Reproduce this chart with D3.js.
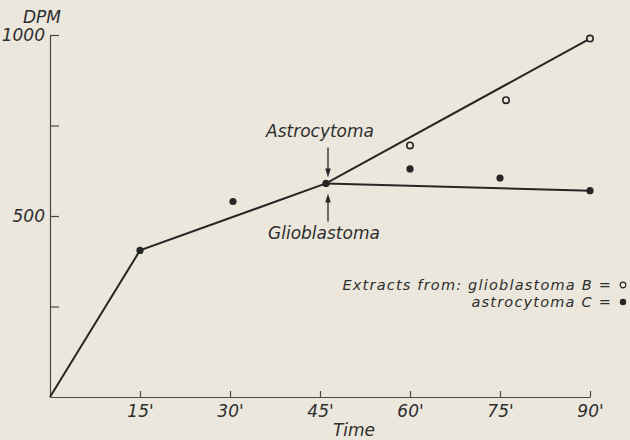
<!DOCTYPE html>
<html>
<head>
<meta charset="utf-8">
<script src="https://cdn.jsdelivr.net/npm/d3@7"></script>
<style>
    html, body { margin: 0; padding: 0; background: #ebe7dc; }
    svg { display: block; }
    text { font-family: 'DejaVu Sans', sans-serif; font-style: italic; fill: #2e2e2e; }
    .axis path, .axis line { stroke: #4a4a4a; stroke-width: 1.2; }
    .axis text { font-size: 17px; }
</style>
</head>
<body>
<svg id="chart" width="630" height="440"></svg>
<script>
/* global d3 */

// minutes after start
const timeTicks = [15, 30, 45, 60, 75, 90];
const dpmTicks = [250, 500, 750, 1000];
const dpmLabelled = [500, 1000];

// the two drawn curves
const astrocytomaLine = [
    { t: 0, dpm: 0 },
    { t: 15, dpm: 405 },
    { t: 46, dpm: 590 },
    { t: 90, dpm: 990 }
];
const glioblastomaLine = [
    { t: 46, dpm: 590 },
    { t: 90, dpm: 570 }
];

// extracts from glioblastoma B (open) and astrocytoma C (filled)
const extractB = [
    { t: 60, dpm: 695 },
    { t: 76, dpm: 820 },
    { t: 90, dpm: 990 }
];
const extractC = [
    { t: 15, dpm: 405 },
    { t: 30.5, dpm: 540 },
    { t: 46, dpm: 590 },
    { t: 60, dpm: 630 },
    { t: 75, dpm: 605 },
    { t: 90, dpm: 570 }
];

const junction = { t: 46, dpm: 590 };

const svg = d3.select('#chart');
const ink = '#262626';

const x = d3.scaleLinear().domain([0, 90]).range([50, 590]);
const y = d3.scaleLinear().domain([0, 1000]).range([397, 35]);

// axes, ticks pointing inwards
svg.append('g')
    .attr('class', 'axis x-axis')
    .attr('transform', `translate(0, ${y(0)})`)
    .call(d3.axisBottom(x)
        .tickValues(timeTicks)
        .tickSizeInner(-6)
        .tickSizeOuter(0)
        .tickPadding(8)
        .tickFormat(d => `${d}'`));

svg.append('g')
    .attr('class', 'axis y-axis')
    .attr('transform', `translate(${x(0)}, 0)`)
    .call(d3.axisLeft(y)
        .tickValues(dpmTicks)
        .tickSizeInner(-9)
        .tickSizeOuter(0)
        .tickPadding(5)
        .tickFormat(d => dpmLabelled.includes(d) ? d : ''));

svg.append('text')
    .attr('x', 42)
    .attr('y', 23)
    .attr('text-anchor', 'middle')
    .style('font-size', '17px')
    .text('DPM');

svg.append('text')
    .attr('x', 354)
    .attr('y', 436)
    .attr('text-anchor', 'middle')
    .style('font-size', '17px')
    .text('Time');

// curves
const line = d3.line().x(d => x(d.t)).y(d => y(d.dpm));

[astrocytomaLine, glioblastomaLine].forEach(series => {
    svg.append('path')
        .datum(series)
        .attr('d', line)
        .attr('fill', 'none')
        .attr('stroke', ink)
        .attr('stroke-width', 2);
});

svg.selectAll('.dot-c')
    .data(extractC)
    .enter()
    .append('circle')
    .attr('class', 'dot-c')
    .attr('cx', d => x(d.t))
    .attr('cy', d => y(d.dpm))
    .attr('r', 3.6)
    .attr('fill', ink);

svg.selectAll('.dot-b')
    .data(extractB)
    .enter()
    .append('circle')
    .attr('class', 'dot-b')
    .attr('cx', d => x(d.t))
    .attr('cy', d => y(d.dpm))
    .attr('r', 3.2)
    .attr('fill', '#ebe7dc')
    .attr('stroke', ink)
    .attr('stroke-width', 1.6);

// arrows onto the branching point
const jx = x(junction.t) + 2;
const jy = y(junction.dpm);

function arrow(x0, yFrom, yTip) {
    const dir = yTip > yFrom ? 1 : -1;
    svg.append('line')
        .attr('x1', x0).attr('y1', yFrom)
        .attr('x2', x0).attr('y2', yTip - dir * 6)
        .attr('stroke', ink)
        .attr('stroke-width', 1.3);
    svg.append('path')
        .attr('d', `M${x0 - 2.8},${yTip - dir * 9} L${x0},${yTip} L${x0 + 2.8},${yTip - dir * 9} Z`)
        .attr('fill', ink);
}

arrow(jx, jy - 36, jy - 6);
arrow(jx, jy + 38, jy + 10);

svg.append('text')
    .attr('x', jx - 8)
    .attr('y', jy - 46)
    .attr('text-anchor', 'middle')
    .style('font-size', '17px')
    .text('Astrocytoma');

svg.append('text')
    .attr('x', jx - 4)
    .attr('y', jy + 56)
    .attr('text-anchor', 'middle')
    .style('font-size', '17px')
    .text('Glioblastoma');

// legend
const legend = svg.append('g').attr('transform', 'translate(612, 0)');

legend.append('text')
    .attr('y', 290)
    .attr('text-anchor', 'end')
    .style('font-size', '14.5px')
    .style('letter-spacing', '1.2px')
    .text('Extracts from: glioblastoma B =');

legend.append('text')
    .attr('y', 307)
    .attr('text-anchor', 'end')
    .style('font-size', '14.5px')
    .style('letter-spacing', '1.2px')
    .text('astrocytoma C =');

legend.append('circle')
    .attr('cx', 11)
    .attr('cy', 285)
    .attr('r', 2.8)
    .attr('fill', 'none')
    .attr('stroke', ink)
    .attr('stroke-width', 1.2);

legend.append('circle')
    .attr('cx', 11)
    .attr('cy', 302)
    .attr('r', 3.2)
    .attr('fill', ink);
</script>
</body>
</html>
